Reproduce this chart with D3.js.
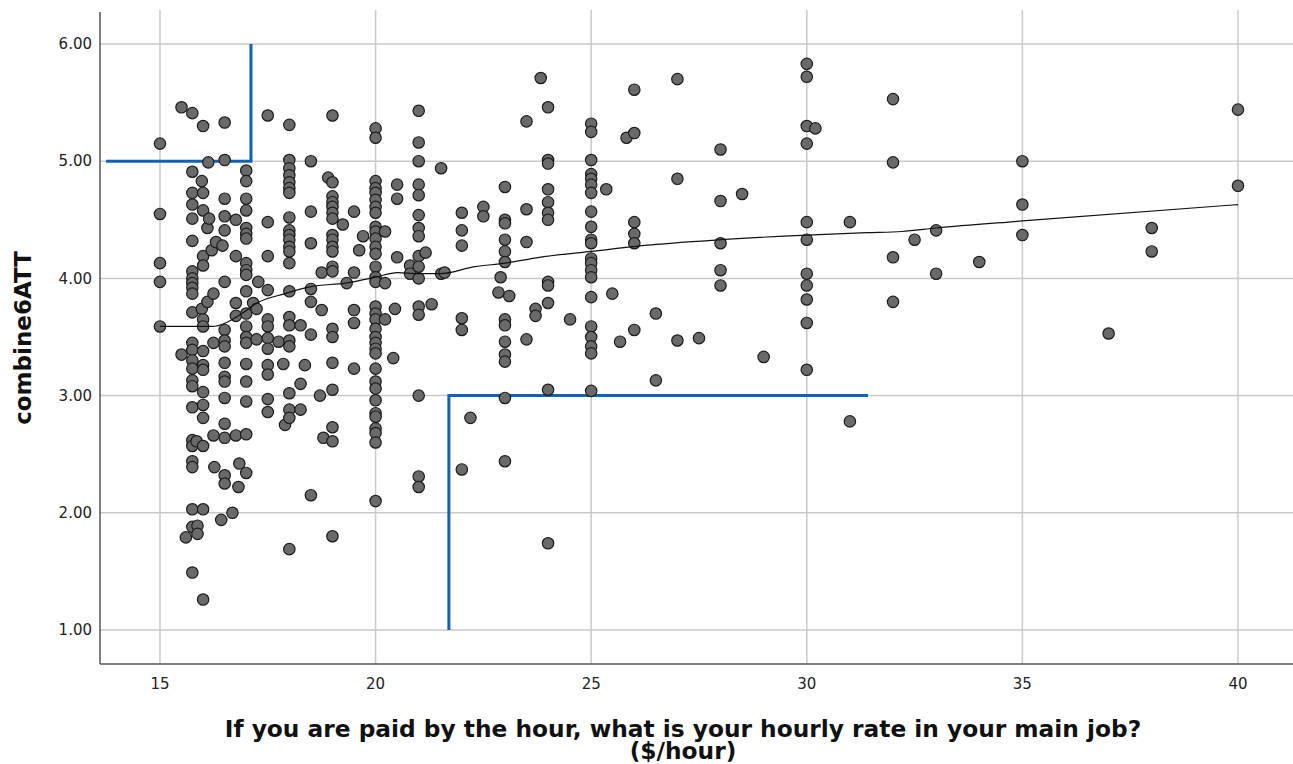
<!DOCTYPE html>
<html>
<head>
<meta charset="utf-8" />
<title>combine6ATT by hourly rate</title>
<style>
  body { margin: 0; background: #fff; }
  svg { display: block; }
  .grid line { stroke: #c9c9c9; stroke-width: 1.5px; }
  .tick-label { font-family: "DejaVu Sans", sans-serif; font-size: 15px; fill: #222; }
  .axis-title { font-family: "DejaVu Sans", sans-serif; font-weight: bold; fill: #111; }
  .dot { fill: #6a6a6a; stroke: #1c1c1c; stroke-width: 1.2px; }
  .fit { fill: none; stroke: #111; stroke-width: 1.2px; }
  .ref { fill: none; stroke: #0f62b8; stroke-width: 3px; }
</style>
</head>
<body>
<div id="chart"></div>
<script src="https://cdn.jsdelivr.net/npm/d3@7/dist/d3.min.js"></script>
<script>
// hourly rate ($/hour) -> combine6ATT values observed at that rate
var rates = [15, 15.5, 15.6, 15.75, 15.85, 15.87, 15.97, 16, 16.1, 16.12, 16.14, 16.2, 16.24, 16.26, 16.3,
  16.42, 16.45, 16.5, 16.68, 16.76, 16.82, 16.84, 17, 17.16, 17.24, 17.28, 17.5, 17.75, 17.86, 17.9,
  18, 18.26, 18.36, 18.5, 18.71, 18.75, 18.79, 18.9, 19, 19.24, 19.33, 19.5, 19.62, 19.71,
  20, 20.22, 20.41, 20.45, 20.5, 20.8, 21, 21.16, 21.3, 21.52, 21.6, 22, 22.2, 22.5, 22.85, 22.9,
  23, 23.1, 23.5, 23.71, 23.83, 24, 24.51, 25, 25.35, 25.49, 25.67, 25.82, 26, 26.5, 27, 27.5,
  28, 28.5, 29, 30, 30.2, 31, 32, 32.5, 33, 34, 35, 37, 38, 40];

var scores = [
  [5.15, 4.55, 4.13, 3.97, 3.59],
  [5.46, 3.35],
  [1.79],
  [5.41, 4.91, 4.73, 4.63, 4.51, 4.32, 4.06, 4.00, 3.96, 3.92, 3.87, 3.71, 3.45, 3.39, 3.30, 3.23,
   3.13, 3.08, 2.90, 2.62, 2.57, 2.44, 2.39, 2.03, 1.88, 1.49],
  [2.61],
  [1.89, 1.82],
  [4.83, 3.74],
  [5.30, 4.73, 4.58, 4.19, 4.11, 3.65, 3.59, 3.38, 3.26, 3.22, 3.03, 2.92, 2.81, 2.57, 2.03, 1.26],
  [4.43, 3.80],
  [4.99],
  [4.51],
  [4.24],
  [3.87, 3.45, 2.66],
  [2.39],
  [4.31],
  [1.94],
  [4.28],
  [5.33, 5.01, 4.68, 4.53, 4.41, 3.97, 3.56, 3.47, 3.42, 3.28, 3.16, 3.12, 2.98, 2.76, 2.64, 2.32, 2.25],
  [2.00],
  [4.50, 4.19, 3.79, 3.68, 2.66],
  [2.22],
  [2.42],
  [4.92, 4.83, 4.68, 4.58, 4.43, 4.38, 4.34, 4.13, 4.07, 4.03, 3.89, 3.70, 3.59, 3.50, 3.45, 3.27,
   3.12, 2.95, 2.67, 2.34],
  [3.79],
  [3.74, 3.48],
  [3.97],
  [5.39, 4.48, 4.19, 3.90, 3.65, 3.59, 3.49, 3.40, 3.26, 3.18, 2.97, 2.86],
  [3.46],
  [3.27],
  [2.75],
  [5.31, 5.01, 4.94, 4.88, 4.82, 4.77, 4.73, 4.52, 4.41, 4.37, 4.33, 4.27, 4.23, 4.13, 3.89, 3.67,
   3.60, 3.47, 3.42, 3.02, 2.88, 2.81, 1.69],
  [3.60, 3.10, 2.88],
  [3.26],
  [5.00, 4.57, 4.30, 3.91, 3.80, 3.52, 2.15],
  [3.00],
  [4.05, 3.73],
  [2.64],
  [4.86],
  [5.39, 4.82, 4.70, 4.65, 4.61, 4.56, 4.51, 4.37, 4.33, 4.27, 4.23, 4.10, 4.06, 3.57, 3.50, 3.28,
   3.05, 2.73, 2.61, 1.80],
  [4.46],
  [3.96],
  [4.57, 4.05, 3.73, 3.62, 3.23],
  [4.24],
  [4.36],
  [5.28, 5.20, 4.83, 4.77, 4.73, 4.67, 4.61, 4.56, 4.44, 4.40, 4.34, 4.27, 4.21, 4.10, 4.01, 3.97,
   3.76, 3.70, 3.65, 3.57, 3.50, 3.45, 3.40, 3.36, 3.23, 3.12, 3.06, 2.96, 2.85, 2.82, 2.72, 2.68,
   2.60, 2.10],
  [4.40, 3.96, 3.65],
  [3.32],
  [3.74],
  [4.80, 4.68, 4.18],
  [4.11, 4.04],
  [5.43, 5.16, 5.00, 4.80, 4.71, 4.54, 4.43, 4.36, 4.19, 4.10, 4.00, 3.76, 3.69, 3.00, 2.31, 2.22],
  [4.22],
  [3.78],
  [4.94, 4.04],
  [4.05],
  [4.56, 4.41, 4.28, 3.66, 3.56, 2.37],
  [2.81],
  [4.61, 4.53],
  [3.88],
  [4.01],
  [4.78, 4.50, 4.47, 4.33, 4.23, 4.14, 3.65, 3.60, 3.46, 3.35, 3.29, 2.98, 2.44],
  [3.85],
  [5.34, 4.59, 4.31, 3.48],
  [3.74, 3.68],
  [5.71],
  [5.46, 5.01, 4.98, 4.76, 4.65, 4.56, 4.50, 3.97, 3.94, 3.79, 3.05, 1.74],
  [3.65],
  [5.32, 5.25, 5.01, 4.89, 4.85, 4.80, 4.73, 4.57, 4.44, 4.33, 4.30, 4.17, 4.13, 4.07, 4.01, 3.84,
   3.59, 3.50, 3.42, 3.36, 3.04],
  [4.76],
  [3.87],
  [3.46],
  [5.20],
  [5.61, 5.24, 4.48, 4.38, 4.30, 3.56],
  [3.70, 3.13],
  [5.70, 4.85, 3.47],
  [3.49],
  [5.10, 4.66, 4.30, 4.07, 3.94],
  [4.72],
  [3.33],
  [5.83, 5.72, 5.30, 5.15, 4.48, 4.33, 4.04, 3.94, 3.82, 3.62, 3.22],
  [5.28],
  [4.48, 2.78],
  [5.53, 4.99, 4.18, 3.80],
  [4.33],
  [4.41, 4.04],
  [4.14],
  [5.00, 4.63, 4.37],
  [3.53],
  [4.43, 4.23],
  [5.44, 4.79]
];

// smoothed fit line
var fitX = [15, 16.2, 16.9, 17.25, 17.9, 18.5, 19.3, 20, 20.5, 21, 21.5, 22.3, 23, 23.8, 25, 26.5, 28, 30, 31.4, 32.2, 33, 35, 40];
var fitY = [3.59, 3.59, 3.70, 3.79, 3.87, 3.93, 3.96, 4.01, 4.05, 4.04, 4.04, 4.10, 4.13, 4.18, 4.23, 4.29, 4.33, 4.37, 4.39, 4.40, 4.43, 4.49, 4.63];

// blue reference lines
var refUpperLeft = [[13.75, 5], [17.11, 5], [17.11, 6]];
var refLowerRight = [[21.7, 1], [21.7, 3], [31.42, 3]];

var xTicks = [15, 20, 25, 30, 35, 40];
var yTicks = [1, 2, 3, 4, 5, 6];

var width = 1293,
    height = 764,
    margin = { left: 100, top: 12, bottom: 664 };

var svg = d3.select("#chart")
    .append("svg")
    .attr("width", width)
    .attr("height", height);

var x = d3.scaleLinear()
    .domain([13.609, 41.276])
    .range([margin.left, width]);
var y = d3.scaleLinear()
    .domain([0.7099, 6.273])
    .range([margin.bottom, margin.top]);

// grid
var grid = svg.append("g").attr("class", "grid");
grid.selectAll(".vx")
    .data(xTicks)
    .enter()
    .append("line")
    .attr("x1", d => x(d)).attr("x2", d => x(d))
    .attr("y1", 10).attr("y2", margin.bottom);
grid.selectAll(".hy")
    .data(yTicks)
    .enter()
    .append("line")
    .attr("x1", margin.left).attr("x2", width)
    .attr("y1", d => y(d)).attr("y2", d => y(d));

// axes lines
svg.append("line")
    .attr("x1", margin.left).attr("x2", margin.left)
    .attr("y1", margin.top).attr("y2", margin.bottom)
    .attr("stroke", "#555").attr("stroke-width", 1.5);
svg.append("line")
    .attr("x1", margin.left).attr("x2", width)
    .attr("y1", margin.bottom).attr("y2", margin.bottom)
    .attr("stroke", "#555").attr("stroke-width", 1.5);

// tick labels
svg.selectAll(".ylab")
    .data(yTicks)
    .enter()
    .append("text")
    .attr("class", "tick-label")
    .attr("x", 92)
    .attr("y", d => y(d))
    .attr("dy", "0.35em")
    .attr("text-anchor", "end")
    .text(d => d3.format(".2f")(d));
svg.selectAll(".xlab")
    .data(xTicks)
    .enter()
    .append("text")
    .attr("class", "tick-label")
    .attr("x", d => x(d))
    .attr("y", 689)
    .attr("text-anchor", "middle")
    .text(d => d);

// reference lines
var refLine = d3.line().x(d => x(d[0])).y(d => y(d[1]));
svg.append("path").attr("class", "ref").attr("d", refLine(refUpperLeft));
svg.append("path").attr("class", "ref").attr("d", refLine(refLowerRight));

// points
var points = [];
rates.forEach(function(r, i) {
    scores[i].forEach(function(s) { points.push([r, s]); });
});
svg.append("g")
    .selectAll("circle")
    .data(points)
    .enter()
    .append("circle")
    .attr("class", "dot")
    .attr("cx", d => x(d[0]))
    .attr("cy", d => y(d[1]))
    .attr("r", 5.7);

// fit line
var fitLine = d3.line()
    .x(d => x(d[0]))
    .y(d => y(d[1]))
    .curve(d3.curveMonotoneX);
svg.append("path")
    .attr("class", "fit")
    .attr("d", fitLine(d3.zip(fitX, fitY)));

// axis titles
svg.append("text")
    .attr("class", "axis-title")
    .attr("transform", "translate(31,338) rotate(-90)")
    .attr("text-anchor", "middle")
    .attr("font-size", "23px")
    .text("combine6ATT");

// two-line x title in one text element
var xTitle = svg.append("text")
    .attr("class", "axis-title")
    .attr("text-anchor", "middle")
    .attr("font-size", "23.3px");
xTitle.append("tspan")
    .attr("x", 683).attr("y", 737)
    .text("If you are paid by the hour, what is your hourly rate in your main job?");
xTitle.append("tspan")
    .attr("x", 683).attr("y", 759)
    .text("($/hour)");
</script>
</body>
</html>
